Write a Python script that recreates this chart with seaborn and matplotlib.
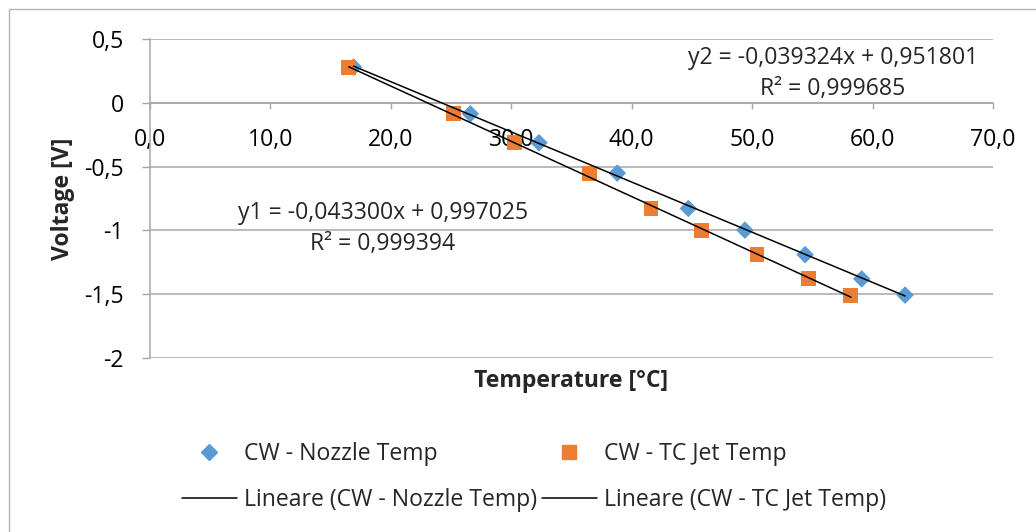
import matplotlib
matplotlib.use("Agg")
import matplotlib.pyplot as plt
from matplotlib.lines import Line2D
from matplotlib.patches import Rectangle
import numpy as np
import pandas as pd
import seaborn as sns

# Measured temperatures [°C] and thermocouple voltage [V]
nozzle_temp = [16.9, 26.6, 32.3, 38.8, 44.7, 49.4, 54.4, 59.1, 62.7]
tc_jet_temp = [16.5, 25.2, 30.3, 36.5, 41.6, 45.8, 50.4, 54.7, 58.2]
voltage = [0.28, -0.086, -0.313, -0.551, -0.828, -0.998, -1.19, -1.38, -1.507]

# Linear fit coefficients (slope, intercept, R²)
fit_nozzle = (-0.039324, 0.951801, 0.999685)
fit_tc_jet = (-0.043300, 0.997025, 0.999394)

series_names = ["CW - Nozzle Temp", "CW - TC Jet Temp"]
trend_names = ["Lineare (CW - Nozzle Temp)", "Lineare (CW - TC Jet Temp)"]

x_ticks = [0, 10, 20, 30, 40, 50, 60, 70]
x_tick_labels = ["0,0", "10,0", "20,0", "30,0", "40,0", "50,0", "60,0", "70,0"]
y_ticks = [0.5, 0, -0.5, -1, -1.5, -2]
y_tick_labels = ["0,5", "0", "-0,5", "-1", "-1,5", "-2"]

BLUE = "#5B9BD5"
ORANGE = "#ED7D31"
GRID = "#A6A6A6"

sns.set_style("white")
plt.rcParams["font.family"] = ["Open Sans", "DejaVu Sans"]
FS = 16.6

W, H = 1036, 532
fig = plt.figure(figsize=(W / 100, H / 100), dpi=100)
ax = fig.add_axes([150 / W, 1 - 358 / H, (993 - 150) / W, (358 - 39) / H])

# Outer chart frame
fig.patches.append(Rectangle((9 / W, -0.1), 1.2, 1 - 9 / H + 0.1,
                             transform=fig.transFigure, fill=False,
                             edgecolor="#B4B4B4", linewidth=1.0))

df_noz = pd.DataFrame({"temp": nozzle_temp, "volt": voltage})
df_tc = pd.DataFrame({"temp": tc_jet_temp, "volt": voltage})

sns.scatterplot(data=df_noz, x="temp", y="volt", marker="D", s=80,
                color=BLUE, edgecolor="none", ax=ax, zorder=3)
sns.scatterplot(data=df_tc, x="temp", y="volt", marker="s", s=115,
                color=ORANGE, edgecolor="none", ax=ax, zorder=4)

# Trend lines from the fitted equations over each series' range
for temps, (m, q, _) in [(nozzle_temp, fit_nozzle), (tc_jet_temp, fit_tc_jet)]:
    xs = np.array([min(temps), max(temps)])
    sns.lineplot(x=xs, y=m * xs + q, color="black", linewidth=1.1, ax=ax, zorder=5)

ax.set_xlim(0, 70)
ax.set_ylim(-2, 0.5)
ax.set_xticks(x_ticks, x_tick_labels)
ax.set_yticks(y_ticks, y_tick_labels)

# Horizontal gridlines only; x axis crosses at y = 0
ax.yaxis.grid(True, color=GRID, linewidth=1.1)
ax.xaxis.grid(False)
for side in ["top", "right"]:
    ax.spines[side].set_visible(False)
ax.spines["bottom"].set_position(("data", 0))
ax.spines["bottom"].set_color(GRID)
ax.spines["bottom"].set_linewidth(1.1)
ax.spines["left"].set_color(GRID)
ax.spines["left"].set_linewidth(1.1)
ax.tick_params(axis="x", direction="out", length=4.5, width=1.0, color=GRID,
               pad=14, bottom=True, labelsize=FS, labelcolor="black")
ax.tick_params(axis="y", direction="out", length=5.8, width=1.0, color=GRID,
               pad=13, left=True, labelsize=FS, labelcolor="black")

ax.set_xlabel("Temperature [°C]", fontsize=FS, fontweight="bold")
ax.xaxis.set_label_coords(0.5, (358 - 381) / 319)
ax.xaxis.label.set_va("center")
ax.set_ylabel("Voltage [V]", fontsize=FS, fontweight="bold")
ax.yaxis.set_label_coords((63 - 150) / 843, 0.5)
ax.yaxis.label.set_va("center")

# Fit equations
def fmt(v):
    return f"{v:.6f}".replace(".", ",")

m2, q2, r2 = fit_nozzle
m1, q1, r1 = fit_tc_jet
ax.text(56.7, 0.353, f"y2 = {fmt(m2)}x + {fmt(q2)}", fontsize=FS,
        ha="center", va="center")
ax.text(56.7, 0.11, f"R² = {fmt(r2)}", fontsize=FS, ha="center", va="center")
ax.text(19.35, -0.862, f"y1 = {fmt(m1)}x + {fmt(q1)}", fontsize=FS,
        ha="center", va="center")
ax.text(19.35, -1.105, f"R² = {fmt(r1)}", fontsize=FS, ha="center", va="center")

handles = [
    Line2D([], [], marker="D", linestyle="none", color=BLUE, markersize=8.5),
    Line2D([], [], color="black", linewidth=1.1),
    Line2D([], [], marker="s", linestyle="none", color=ORANGE, markersize=10),
    Line2D([], [], color="black", linewidth=1.1),
]
labels = [series_names[0], trend_names[0], series_names[1], trend_names[1]]
fig.legend(handles, labels, loc="center", bbox_to_anchor=(534 / W, 1 - 477 / H),
           ncol=2, frameon=False, fontsize=FS, handlelength=2.4,
           handletextpad=0.3, columnspacing=0.2, labelspacing=0.95)

fig.savefig("out.png", dpi=100)
